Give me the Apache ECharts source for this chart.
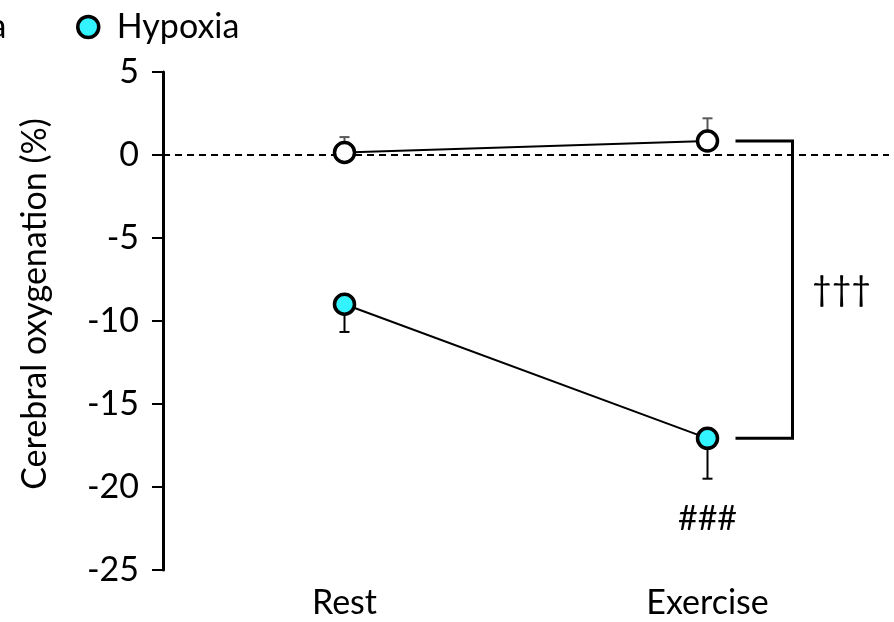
<!DOCTYPE html>
<html>
<head>
<meta charset="utf-8">
<script src="https://cdn.jsdelivr.net/npm/echarts@6/dist/echarts.min.js"></script>
<style>
  html, body { margin: 0; padding: 0; background: #fff; }
  #chart { width: 894px; height: 622px; }
</style>
</head>
<body>
<div id="chart"></div>
<script>
// Cerebral oxygenation (% change) at rest and during exercise
const categories = ['Rest', 'Exercise'];
const normoxiaMean = [0.15, 0.84];
const normoxiaSE = [0.93, 1.37];   // drawn upward
const hypoxiaMean = [-8.99, -17.07];
const hypoxiaSE = [1.67, 2.43];    // drawn downward
const yTicks = { min: -25, max: 5, interval: 5 };
const betweenMark = '†††';  // normoxia vs hypoxia during exercise
const withinMark = '###';   // exercise vs rest in hypoxia

const FONT = 'Lato';
const FS = 34;
const CYAN = '#33f3ff';

const chart = echarts.init(document.getElementById('chart'));

function errorSeries(name, means, ses, dir, color) {
  return {
    name: name + ' SE',
    type: 'custom',
    z: 1,
    silent: true,
    data: means.map((m, i) => [i, m, ses[i], dir]),
    encode: { x: 0, y: 1 },
    renderItem: function (params, api) {
      const c = api.coord([api.value(0), api.value(1)]);
      const e = api.coord([api.value(0), api.value(1) + api.value(3) * api.value(2)]);
      const half = 5;
      const st = { stroke: color, lineWidth: 2 };
      return {
        type: 'group',
        children: [
          { type: 'line', shape: { x1: c[0], y1: c[1], x2: e[0], y2: e[1] }, style: st },
          { type: 'line', shape: { x1: e[0] - half, y1: e[1], x2: e[0] + half, y2: e[1] }, style: st }
        ]
      };
    }
  };
}

const legendBase = {
  top: 10, padding: 0, itemWidth: 21, itemHeight: 21, icon: 'circle',
  itemStyle: { borderColor: '#000', borderWidth: 3.5 },
  textStyle: { fontFamily: FONT, fontSize: FS, color: '#000', padding: [0, 0, 0, 13] }
};

const option = {
  animation: false,
  backgroundColor: '#fff',
  grid: { left: 163, right: 5, top: 72, bottom: 52, containLabel: false },
  legend: [
    Object.assign({ data: ['Normoxia'], left: -180 }, legendBase),
    Object.assign({ data: ['Hypoxia'], left: 76 }, legendBase)
  ],
  xAxis: {
    type: 'category',
    data: categories,
    boundaryGap: true,
    axisLine: { show: false },
    axisTick: { show: false },
    axisLabel: { margin: 16, fontFamily: FONT, fontSize: FS, color: '#000' },
    splitLine: { show: false }
  },
  yAxis: {
    type: 'value',
    min: yTicks.min, max: yTicks.max, interval: yTicks.interval,
    axisLine: { show: true, lineStyle: { color: '#000', width: 3 } },
    axisTick: { show: true, inside: false, length: 11, lineStyle: { color: '#000', width: 2 } },
    axisLabel: { margin: 24, fontFamily: FONT, fontSize: FS, color: '#000' },
    splitLine: { show: false }
  },
  graphic: [
    {
      type: 'text',
      x: 35, y: 304,
      rotation: Math.PI / 2,
      style: {
        text: 'Cerebral oxygenation (%)',
        font: FS + 'px ' + FONT,
        fill: '#000',
        align: 'center',
        verticalAlign: 'middle'
      }
    }
  ],
  series: [
    errorSeries('Normoxia', normoxiaMean, normoxiaSE, 1, '#595959'),
    errorSeries('Hypoxia', hypoxiaMean, hypoxiaSE, -1, '#000'),
    {
      name: 'Normoxia',
      type: 'line',
      z: 3,
      data: normoxiaMean,
      symbol: 'circle',
      symbolSize: 20,
      itemStyle: { color: '#fff', borderColor: '#000', borderWidth: 3.5 },
      lineStyle: { color: '#000', width: 2 },
      markLine: {
        silent: true,
        symbol: 'none',
        label: { show: false },
        lineStyle: { color: '#000', width: 2.2, type: [7, 5] },
        data: [{ yAxis: 0 }],
        z: 2
      }
    },
    {
      name: 'Hypoxia',
      type: 'line',
      z: 3,
      data: hypoxiaMean,
      symbol: 'circle',
      symbolSize: 20,
      itemStyle: { color: CYAN, borderColor: '#000', borderWidth: 3.5 },
      lineStyle: { color: '#000', width: 2 }
    },
    {
      // significance bracket between the two exercise means
      name: 'bracket',
      type: 'custom',
      silent: true,
      z: 4,
      data: [[1, normoxiaMean[1], hypoxiaMean[1]]],
      encode: { x: 0, y: [1, 2] },
      renderItem: function (params, api) {
        const top = api.coord([api.value(0), api.value(1)]);
        const bot = api.coord([api.value(0), api.value(2)]);
        const x0 = top[0] + 28, x1 = top[0] + 85;
        return {
          type: 'group',
          children: [
            {
              type: 'polyline',
              shape: { points: [[x0, top[1]], [x1, top[1]], [x1, bot[1]], [x0, bot[1]]] },
              style: { stroke: '#000', lineWidth: 3, fill: null }
            },
            {
              type: 'text',
              x: top[0] + 134, y: (top[1] + bot[1]) / 2,
              style: { text: betweenMark, font: FS + 'px ' + FONT, fill: '#000', align: 'center', verticalAlign: 'middle' }
            },
            {
              type: 'text',
              x: bot[0], y: bot[1] + 81,
              style: { text: withinMark, font: FS + 'px ' + FONT, fill: '#000', align: 'center', verticalAlign: 'middle' }
            }
          ]
        };
      }
    }
  ]
};

chart.setOption(option);
</script>
</body>
</html>
